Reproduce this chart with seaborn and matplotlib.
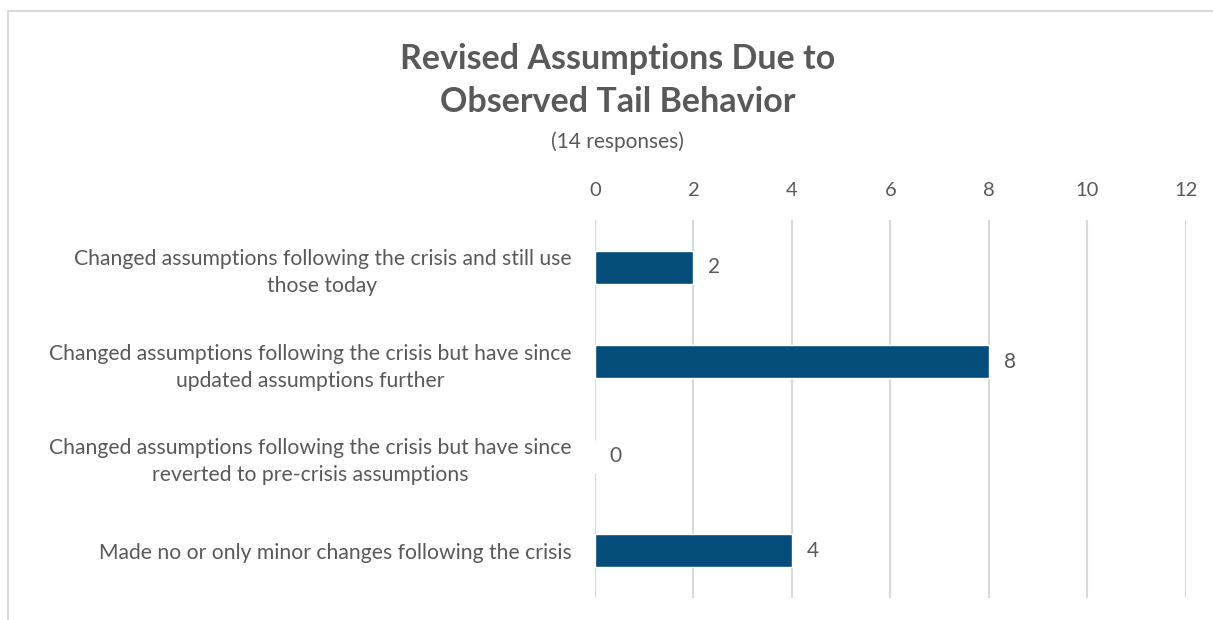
import matplotlib
matplotlib.use("Agg")
import matplotlib.pyplot as plt
from matplotlib.lines import Line2D
import seaborn as sns
import pandas as pd

# chart data
categories = [
    "Changed assumptions following the crisis and still use\nthose today",
    "Changed assumptions following the crisis but have since\nupdated assumptions further",
    "Changed assumptions following the crisis but have since\nreverted to pre-crisis assumptions",
    "Made no or only minor changes following the crisis",
]
responses = [2, 8, 0, 4]
x_ticks = [0, 2, 4, 6, 8, 10, 12]

df = pd.DataFrame({"category": categories, "responses": responses})

sns.set_theme(style="white")
plt.rcParams["font.family"] = ["Lato", "DejaVu Sans"]

text_col = "#595959"
bar_col = "#044C7A"

fig = plt.figure(figsize=(12.13, 6.2), dpi=100)
ax = fig.add_axes([0.4905, 0.0355, 0.4872, 0.6097])

sns.barplot(data=df, x="responses", y="category", orient="h", color=bar_col,
            width=0.35, saturation=1, ax=ax)

ax.set_xlim(0, 12)
ax.set_ylim(3.5, -0.5)
ax.set_xticks(x_ticks)
ax.xaxis.tick_top()
ax.tick_params(axis="x", length=0, labelsize=14.5, colors=text_col, pad=15)
ax.tick_params(axis="y", length=0, labelsize=15.2, colors=text_col, pad=17)
for lbl in ax.get_yticklabels():
    lbl.set_multialignment("center")
    lbl.set_linespacing(1.45)
ax.set_xlabel("")
ax.set_ylabel("")
ax.grid(axis="x", color="#D9D9D9", linewidth=1.5)
ax.set_axisbelow(True)
for s in ax.spines.values():
    s.set_visible(False)

# value labels
for i, v in enumerate(responses):
    ax.text(v + 0.3, i, str(v), va="center", ha="left", fontsize=15, color=text_col)

fig.text(0.509, 0.870, "Revised Assumptions Due to\nObserved Tail Behavior",
         ha="center", va="center", fontsize=24.5, fontweight="bold", color=text_col,
         linespacing=1.45)
fig.text(0.509, 0.771, "(14 responses)", ha="center", va="center",
         fontsize=15, color=text_col)

# light frame on top and left like the source chart box
fig.add_artist(Line2D([8 / 1213, 1.0], [1 - 11 / 620, 1 - 11 / 620],
                      transform=fig.transFigure, color="#D9D9D9", linewidth=1.5))
fig.add_artist(Line2D([8 / 1213, 8 / 1213], [0, 1 - 11 / 620],
                      transform=fig.transFigure, color="#D9D9D9", linewidth=1.5))

fig.savefig("out.png", dpi=100)
